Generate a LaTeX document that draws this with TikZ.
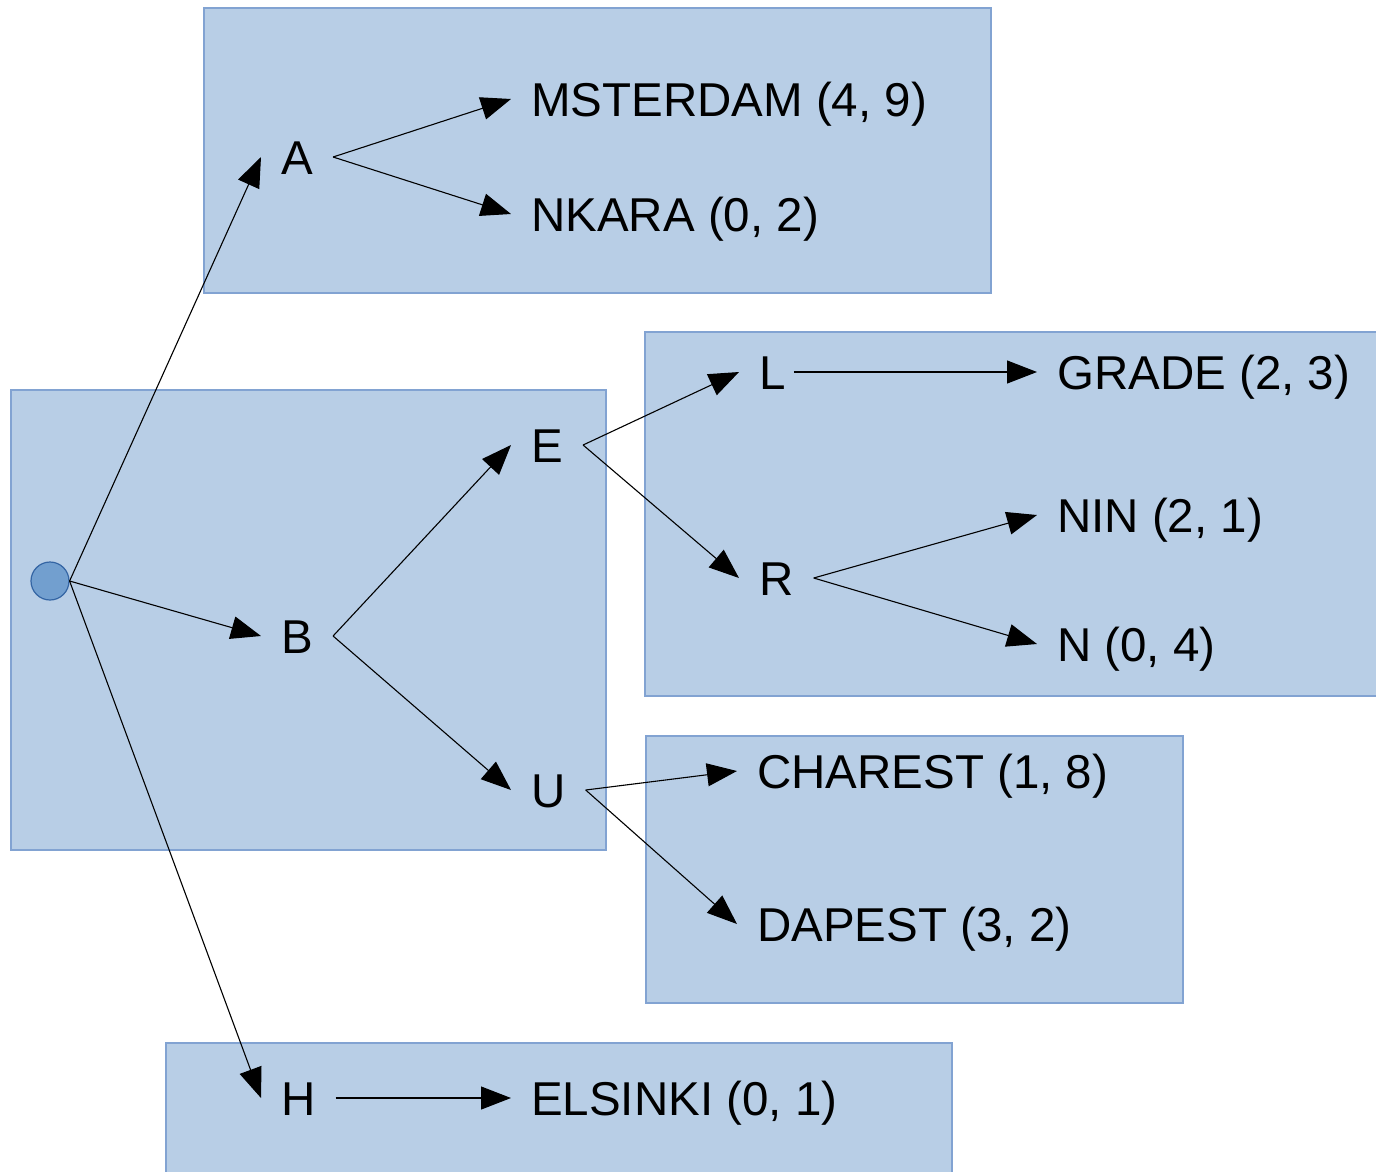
\documentclass[tikz,border=0pt]{standalone}
\usepackage{fontspec}
\setmainfont{Liberation Sans}
\usepackage{tikz}
\usetikzlibrary{arrows.meta,positioning}
\usepackage{xcolor}
\definecolor{panelfill}{RGB}{184,206,230}
\definecolor{panelline}{RGB}{130,163,210}
\definecolor{rootfill}{RGB}{114,159,207}
\definecolor{rootline}{RGB}{52,101,164}

\begin{document}
\begin{tikzpicture}[
  x=1pt,
  y=-1pt,
  >={Triangle[length=30pt,width=23pt]},
  flow/.style={->,line width=1.1pt},
  panel/.style={draw=panelline,fill=panelfill,line width=1.2pt},
  choice/.style={anchor=west,inner xsep=20pt,inner ysep=0pt,
    text height=34pt,text depth=0pt,font=\fontsize{47.5}{50}\selectfont},
  root/.style={circle,draw=rootline,fill=rootfill,line width=1.2pt,
    minimum size=38pt,inner sep=0pt}
]
\useasboundingbox (0,0) rectangle (1376,1171);

% shaded groups
\path[panel] (204,8) rectangle (991,293);
\path[panel] (11,390) rectangle (606,850);
\path[panel] (645,332) rectangle (1390,696);
\path[panel] (646,736) rectangle (1183,1003);
\path[panel] (166,1043) rectangle (952,1190);

\node[root] (start) at (50,581) {};

% first move
\node[choice] (a) at (261,157) {A};
\node[choice] (b) at (261,636) {B};
\node[choice] (h) at (261,1098) {H};

% outcomes after A
\node[choice] (ams) at (511,99) {MSTERDAM (4, 9)};
\node[choice] (ank) at (511,214) {NKARA (0, 2)};

% B branch
\node[choice] (e) at (511,445) {E};
\node[choice] (u) at (511,790) {U};
\node[choice] (l) at (739,372) {L};
\node[choice] (r) at (739,578) {R};
\node[choice] (gra) at (1037,372) {GRADE (2, 3)};
\node[choice] (nin) at (1037,515) {NIN (2, 1)};
\node[choice] (n) at (1037,644) {N (0, 4)};
\node[choice] (cha) at (737,771) {CHAREST (1, 8)};
\node[choice] (dap) at (737,924) {DAPEST (3, 2)};

% after H
\node[choice] (els) at (511,1098) {ELSINKI (0, 1)};

\draw[flow] (start.east) -- (a.west);
\draw[flow] (start.east) -- (b.west);
\draw[flow] (start.east) -- (h.west);
\draw[flow] (a.east) -- (ams.west);
\draw[flow] (a.east) -- (ank.west);
\draw[flow] (b.east) -- (e.west);
\draw[flow] (b.east) -- (u.west);
\draw[flow] (e.east) -- (l.west);
\draw[flow] (e.east) -- (r.west);
\draw[flow] ([xshift=-12pt]l.east) -- (gra.west);
\draw[flow] (r.east) -- (nin.west);
\draw[flow] (r.east) -- (n.west);
\draw[flow] (u.east) -- (cha.west);
\draw[flow] (u.east) -- (dap.west);
\draw[flow] (h.east) -- (els.west);

\end{tikzpicture}
\end{document}
